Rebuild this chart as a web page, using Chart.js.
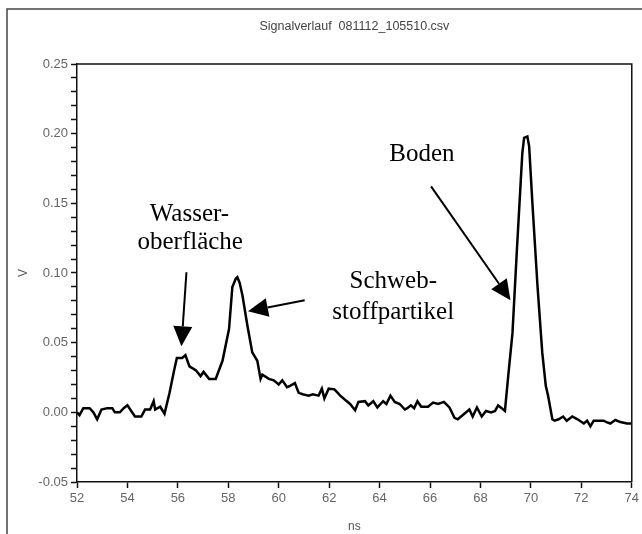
<!DOCTYPE html>
<html>
<head>
<meta charset="utf-8">
<script src="https://cdn.jsdelivr.net/npm/chart.js@4.4.1/dist/chart.umd.min.js"></script>
<style>
  body { margin: 0; background: #fff; }
  canvas { display: block; }
</style>
</head>
<body>
<canvas id="myChart" width="642" height="534"></canvas>
<script>
// signal trace, time in ns, voltage in V
var timeNs = [
  52.0, 52.1, 52.25, 52.5, 52.65, 52.8, 52.97, 53.2, 53.4, 53.5, 53.7, 53.85, 54.0, 54.15, 54.3, 54.55,
  54.7, 54.9, 55.04, 55.1, 55.3, 55.47, 55.67, 55.85, 55.96, 56.17, 56.3, 56.46, 56.72, 56.9, 57.02,
  57.24, 57.5, 57.77, 58.03, 58.16, 58.3, 58.36, 58.45, 58.56, 58.76, 58.95, 59.15, 59.28, 59.35, 59.61,
  59.8, 60.0, 60.14, 60.33, 60.45, 60.64, 60.79, 60.95, 61.19, 61.35, 61.58, 61.71, 61.81, 61.98, 62.21,
  62.44, 62.63, 62.83, 63.03, 63.16, 63.42, 63.55, 63.75, 63.91, 64.14, 64.27, 64.43, 64.6, 64.8, 65.0,
  65.1, 65.24, 65.37, 65.5, 65.65, 65.92, 66.12, 66.32, 66.55, 66.77, 66.97, 67.1, 67.36, 67.56, 67.69,
  67.86, 68.05, 68.22, 68.42, 68.58, 68.7, 68.84, 68.97, 69.1, 69.27, 69.44, 69.6, 69.66, 69.73, 69.86,
  69.93, 70.06, 70.26, 70.45, 70.59, 70.68, 70.85, 70.94, 71.1, 71.28, 71.42, 71.64, 71.85, 72.1, 72.23,
  72.36, 72.49, 72.88, 73.0, 73.15, 73.35, 73.55, 73.81, 74.0
];
var voltage = [
  0.000, -0.002, 0.003, 0.003, 0.000, -0.005, 0.002, 0.003, 0.003, 0.000, 0.000, 0.003, 0.005, 0.001, -0.003, -0.003,
  0.002, 0.002, 0.008, 0.002, 0.004, -0.001, 0.014, 0.030, 0.039, 0.039, 0.041, 0.033, 0.030, 0.026, 0.029,
  0.024, 0.024, 0.037, 0.060, 0.090, 0.096, 0.097, 0.093, 0.084, 0.062, 0.043, 0.037, 0.024, 0.027, 0.024,
  0.023, 0.020, 0.023, 0.018, 0.019, 0.021, 0.014, 0.013, 0.012, 0.013, 0.012, 0.017, 0.010, 0.017, 0.0165,
  0.012, 0.009, 0.006, 0.0015, 0.0075, 0.008, 0.005, 0.008, 0.0035, 0.008, 0.006, 0.012, 0.0075, 0.006, 0.002,
  0.003, 0.005, 0.003, 0.008, 0.004, 0.004, 0.007, 0.006, 0.0075, 0.0035, -0.004, -0.005, -0.001, 0.002, -0.003,
  0.0035, -0.003, 0.001, 0.000, 0.001, 0.005, 0.003, 0.001, 0.026, 0.057, 0.115, 0.167, 0.186, 0.197, 0.198,
  0.191, 0.150, 0.091, 0.043, 0.019, 0.012, -0.005, -0.006, -0.005, -0.003, -0.006, -0.003, -0.005, -0.008, -0.006,
  -0.010, -0.006, -0.006, -0.007, -0.008, -0.0055, -0.007, -0.008, -0.008
];

// annotation labels and arrows, in data units
var labelText = ["Wasser-", "oberfläche", "Schweb-", "stoffpartikel", "Boden"];
var labelX = [56.46, 56.49, 64.54, 64.54, 65.68];
var labelY = [0.142, 0.122, 0.094, 0.0718, 0.185];
var arrowFrom = [[56.34, 0.1005], [61.03, 0.0805], [66.04, 0.1622]];
var arrowTo = [[56.14, 0.0474], [58.78, 0.0725], [69.19, 0.0805]];

var points = timeNs.map(function(t, i) { return { x: t, y: voltage[i] }; });

var extras = {
  id: "extras",
  afterDraw: function(chart) {
    var ctx = chart.ctx;
    var a = chart.chartArea;
    var xs = chart.scales.x, ys = chart.scales.y;
    ctx.save();
    // outer frame (cut off at right and bottom)
    ctx.strokeStyle = "#444";
    ctx.lineWidth = 1.5;
    ctx.beginPath();
    ctx.moveTo(7, 534);
    ctx.lineTo(7, 9);
    ctx.lineTo(642, 9);
    ctx.stroke();
    // top and right of the plot box
    ctx.strokeStyle = "#111";
    ctx.beginPath();
    ctx.moveTo(a.left, a.top);
    ctx.lineTo(a.right, a.top);
    ctx.lineTo(a.right, a.bottom);
    ctx.stroke();
    // title
    ctx.fillStyle = "#444";
    ctx.font = "12.5px 'Liberation Sans', Arial, sans-serif";
    ctx.textAlign = "center";
    ctx.textBaseline = "middle";
    ctx.fillText("Signalverlauf  081112_105510.csv", (a.left + a.right) / 2, 27);
    // labels
    ctx.fillStyle = "#000";
    ctx.font = "25px 'Liberation Serif', 'Times New Roman', serif";
    for (var i = 0; i < labelText.length; i++) {
      ctx.fillText(labelText[i], xs.getPixelForValue(labelX[i]), ys.getPixelForValue(labelY[i]));
    }
    // arrows
    ctx.strokeStyle = "#000";
    ctx.lineWidth = 2;
    for (var j = 0; j < arrowFrom.length; j++) {
      var x1 = xs.getPixelForValue(arrowFrom[j][0]), y1 = ys.getPixelForValue(arrowFrom[j][1]);
      var x2 = xs.getPixelForValue(arrowTo[j][0]), y2 = ys.getPixelForValue(arrowTo[j][1]);
      var ang = Math.atan2(y2 - y1, x2 - x1);
      var len = 20, hw = 9.5;
      var bx = x2 - len * Math.cos(ang), by = y2 - len * Math.sin(ang);
      ctx.beginPath();
      ctx.moveTo(x1, y1);
      ctx.lineTo(bx, by);
      ctx.stroke();
      ctx.beginPath();
      ctx.moveTo(x2, y2);
      ctx.lineTo(bx + hw * Math.sin(ang), by - hw * Math.cos(ang));
      ctx.lineTo(bx - hw * Math.sin(ang), by + hw * Math.cos(ang));
      ctx.closePath();
      ctx.fill();
    }
    ctx.restore();
  }
};

var tickFont = { family: "'Liberation Sans', Arial, sans-serif", size: 13 };

new Chart(document.getElementById("myChart").getContext("2d"), {
  type: "line",
  data: {
    datasets: [{
      data: points,
      borderColor: "#000",
      borderWidth: 2.5,
      pointRadius: 0,
      tension: 0,
      fill: false
    }]
  },
  options: {
    responsive: false,
    animation: false,
    layout: { padding: { top: 64, right: 7, left: 0, bottom: 0 } },
    plugins: { legend: { display: false }, tooltip: { enabled: false } },
    scales: {
      x: {
        type: "linear",
        min: 52,
        max: 74,
        afterFit: function(s) { s.height = 52; },
        ticks: { stepSize: 2, color: "#666", font: tickFont, padding: 3, maxRotation: 0 },
        grid: { drawOnChartArea: false, tickLength: 6, tickColor: "#111", tickWidth: 1.5 },
        border: { color: "#111", width: 1.5 },
        title: { display: true, text: "ns", color: "#555", font: { family: tickFont.family, size: 12 }, padding: { top: 0, bottom: 0 } }
      },
      y: {
        min: -0.05,
        max: 0.25,
        afterFit: function(s) { s.width = 77; },
        ticks: {
          stepSize: 0.01,
          autoSkip: false,
          color: "#666",
          font: tickFont,
          padding: 3,
          callback: function(v) {
            var r = Math.round(v * 100);
            return r % 5 === 0 ? (r / 100).toFixed(2) : "";
          }
        },
        grid: { drawOnChartArea: false, tickLength: 6, tickColor: "#111", tickWidth: 1.5 },
        border: { color: "#111", width: 1.5 },
        title: { display: true, text: "V", color: "#555", font: { family: tickFont.family, size: 12 }, padding: { top: 16, bottom: 0 } }
      }
    }
  },
  plugins: [extras]
});
</script>
</body>
</html>
